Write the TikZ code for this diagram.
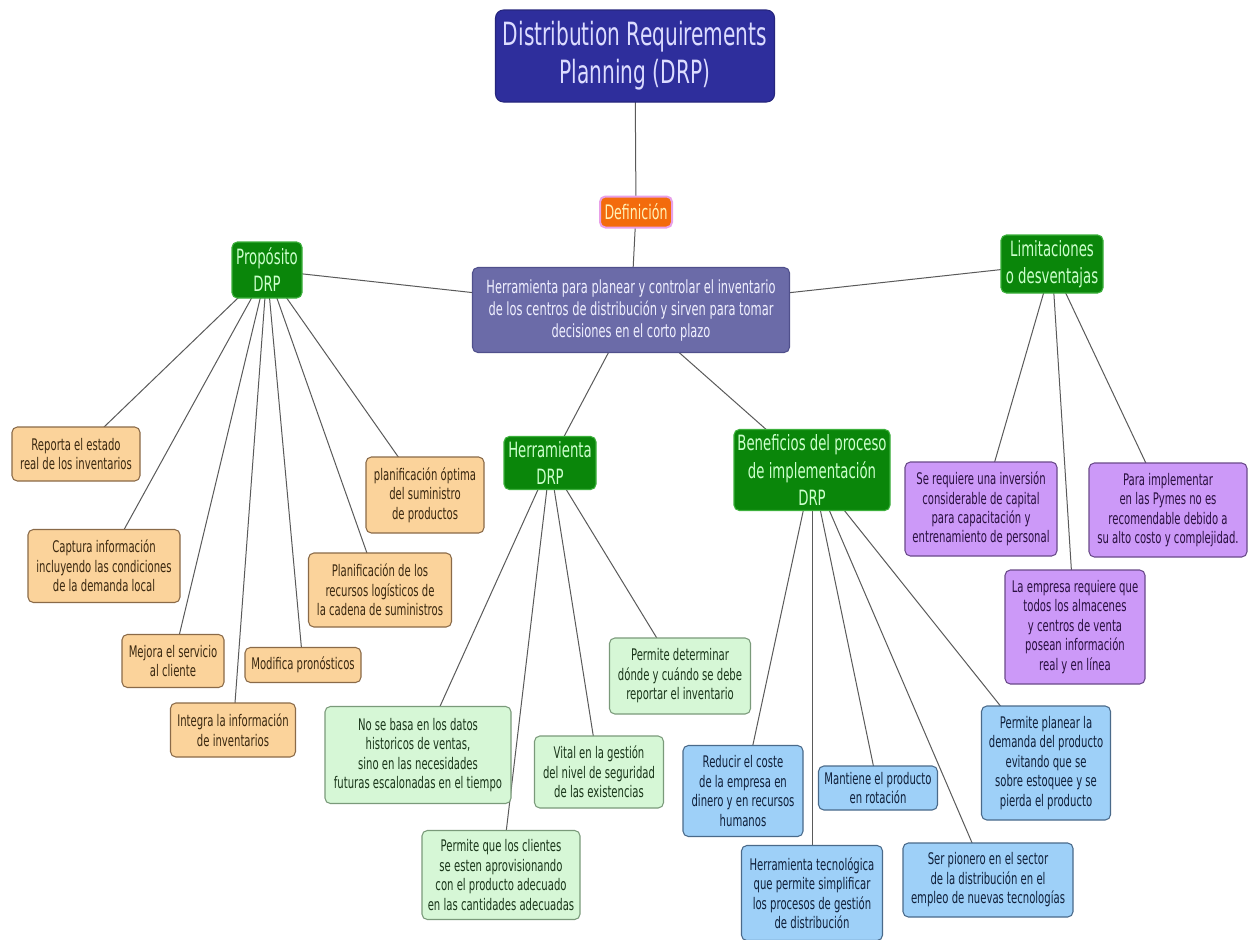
\documentclass[tikz,border=0pt]{standalone}
\usepackage{fontspec}
\setmainfont{DejaVu Sans}[FakeStretch=0.63]
\usetikzlibrary{backgrounds}

% palette
\definecolor{titlefill}{HTML}{2E2E9C}
\definecolor{titletext}{HTML}{DCDCFF}
\definecolor{deffill}{HTML}{F36B0C}
\definecolor{defline}{HTML}{E8A0E8}
\definecolor{deftext}{HTML}{FFF2B8}
\definecolor{mainfill}{HTML}{6B6BA8}
\definecolor{mainline}{HTML}{50508C}
\definecolor{maintext}{HTML}{F0F0FF}
\definecolor{headfill}{HTML}{0A860A}
\definecolor{headline}{HTML}{3CB03C}
\definecolor{headtext}{HTML}{CCFFCC}
\definecolor{orfill}{HTML}{FBD39B}
\definecolor{orline}{HTML}{8A6A48}
\definecolor{ortext}{HTML}{3A2810}
\definecolor{grfill}{HTML}{D6F7D6}
\definecolor{grline}{HTML}{7A9A7A}
\definecolor{grtext}{HTML}{1A361A}
\definecolor{blfill}{HTML}{9ED0F8}
\definecolor{blline}{HTML}{4A6A8A}
\definecolor{bltext}{HTML}{10203A}
\definecolor{pufill}{HTML}{CC99F8}
\definecolor{puline}{HTML}{6A4A8A}
\definecolor{putext}{HTML}{2A1040}
\definecolor{edgegray}{HTML}{5A5A5A}

\begin{document}
\begin{tikzpicture}[x=0.75pt,y=-0.75pt,
  card/.style={rounded corners=4pt, align=center, inner sep=2pt, line width=0.8pt},
  boxsize/.style 2 args={minimum width=#1*0.75pt, minimum height=#2*0.75pt},
  titlebox/.style={card, fill=titlefill, draw=titlefill!80!black, text=titletext,
    rounded corners=6pt, font=\fontsize{24pt}{28.5pt}\selectfont},
  defbox/.style={card, fill=deffill, draw=defline, line width=1.5pt, text=deftext,
    font=\fontsize{15pt}{18pt}\selectfont},
  mainbox/.style={card, fill=mainfill, draw=mainline, text=maintext,
    font=\fontsize{13.6pt}{16.5pt}\selectfont},
  headbox/.style={card, fill=headfill, draw=headline, text=headtext,
    font=\fontsize{15.8pt}{20.3pt}\selectfont},
  leaf/.style={card, font=\fontsize{12pt}{14.6pt}\selectfont},
  orbox/.style={leaf, fill=orfill, draw=orline, text=ortext},
  grbox/.style={leaf, fill=grfill, draw=grline, text=grtext},
  blbox/.style={leaf, fill=blfill, draw=blline, text=bltext},
  pubox/.style={leaf, fill=pufill, draw=puline, text=putext},
  link/.style={draw=edgegray, line width=0.75pt}
]
\useasboundingbox (0,0) rectangle (1248,939);

% top of the map
\node[titlebox, boxsize={279}{92}] (title) at (635,56) {Distribution Requirements\\Planning (DRP)};
\node[defbox, boxsize={72}{31}, inner sep=1pt] (defn) at (636,212) {Definición};
\node[mainbox, boxsize={317}{85}] (main) at (631,310)
  {Herramienta para planear y controlar el inventario\\de los centros de distribución y sirven para tomar\\decisiones en el corto plazo};

% branch headings
\node[headbox, boxsize={70}{56}] (prop) at (267,270) {Propósito\\DRP};
\node[headbox, boxsize={102}{58}] (limit) at (1052,264) {Limitaciones\\o desventajas};
\node[headbox, boxsize={92}{53}] (herr) at (550,463) {Herramienta\\DRP};
\node[headbox, boxsize={156}{81}] (benef) at (812,470) {Beneficios del proceso\\de implementación\\DRP};

% purpose
\node[orbox, boxsize={128}{54}] (o1) at (76,454) {Reporta el estado\\real de los inventarios};
\node[orbox, boxsize={118}{76}] (o2) at (425,495) {planificación óptima\\del suministro\\de productos};
\node[orbox, boxsize={152}{73}] (o3) at (104,566) {Captura información\\incluyendo las condiciones\\de la demanda local};
\node[orbox, boxsize={143}{74}] (o4) at (380,590) {Planificación de los\\recursos logísticos de\\la cadena de suministros};
\node[orbox, boxsize={102}{53}] (o5) at (173,661) {Mejora el servicio\\al cliente};
\node[orbox, boxsize={116}{35}] (o6) at (303,665) {Modifica pronósticos};
\node[orbox, boxsize={125}{54}] (o7) at (233,730) {Integra la información\\de inventarios};

% the tool
\node[grbox, boxsize={186}{97}] (g1) at (418,755) {No se basa en los datos\\historicos de ventas,\\sino en las necesidades\\futuras escalonadas en el tiempo};
\node[grbox, boxsize={141}{76}] (g2) at (680,676) {Permite determinar\\dónde y cuándo se debe\\reportar el inventario};
\node[grbox, boxsize={129}{72}] (g3) at (599,772) {Vital en la gestión\\del nivel de seguridad\\de las existencias};
\node[grbox, boxsize={158}{89}] (g4) at (501,875) {Permite que los clientes\\se esten aprovisionando\\con el producto adecuado\\en las cantidades adecuadas};

% benefits
\node[blbox, boxsize={120}{91}] (b1) at (743,791) {Reducir el coste\\de la empresa en\\dinero y en recursos\\humanos};
\node[blbox, boxsize={119}{44}] (b2) at (878,788) {Mantiene el producto\\en rotación};
\node[blbox, boxsize={141}{95}] (b3) at (812,893) {Herramienta tecnológica\\que permite simplificar\\los procesos de gestión\\de distribución};
\node[blbox, boxsize={170}{74}] (b4) at (988,880) {Ser pionero en el sector\\de la distribución en el\\empleo de nuevas tecnologías};
\node[blbox, boxsize={129}{114}] (b5) at (1046,763) {Permite planear la\\demanda del producto\\evitando que se\\sobre estoquee y se\\pierda el producto};

% limitations
\node[pubox, boxsize={152}{94}] (p1) at (981,509) {Se requiere una inversión\\considerable de capital\\para capacitación y\\entrenamiento de  personal};
\node[pubox, boxsize={158}{94}] (p2) at (1168,510) {Para implementar\\en las Pymes no es\\recomendable debido a\\su alto costo y complejidad.};
\node[pubox, boxsize={140}{114}] (p3) at (1075,627) {La empresa requiere que\\todos los almacenes\\y centros de venta\\posean información\\real y en línea};

% white page first, then connectors running centre to centre under the boxes
\begin{pgfonlayer}{background}
  \fill[white] (0,0) rectangle (1248,939);
  \path[link] (title.center) -- (defn.center);
  \path[link] (defn.center) -- (main.center);
  \foreach \n in {prop,limit,herr,benef}
    \path[link] (main.center) -- (\n.center);
  \foreach \n in {o1,o2,o3,o4,o5,o6,o7}
    \path[link] (prop.center) -- (\n.center);
  \foreach \n in {g1,g2,g3,g4}
    \path[link] (herr.center) -- (\n.center);
  \foreach \n in {b1,b2,b3,b4,b5}
    \path[link] (benef.center) -- (\n.center);
  \foreach \n in {p1,p2,p3}
    \path[link] (limit.center) -- (\n.center);
\end{pgfonlayer}
\end{tikzpicture}
\end{document}
